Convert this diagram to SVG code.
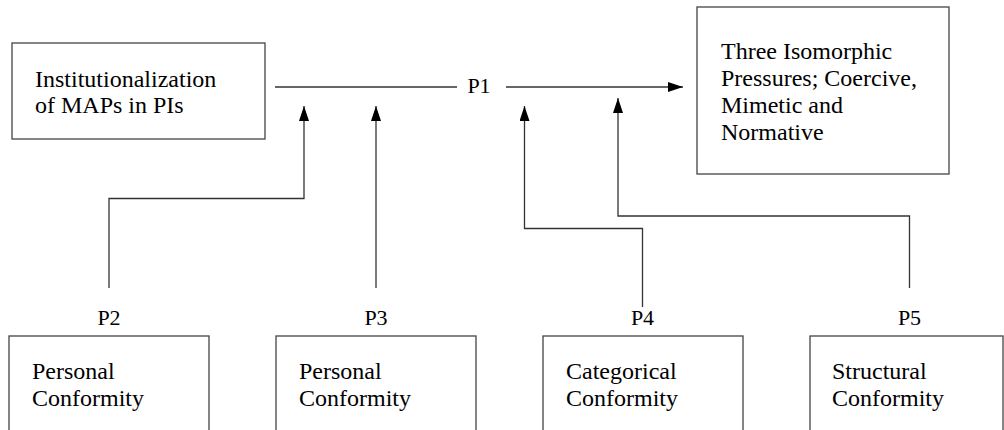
<svg xmlns="http://www.w3.org/2000/svg" width="1004" height="430" viewBox="0 0 1004 430">
<style>
.box{fill:#fff;stroke:#444;stroke-width:1.3}
.lbl{font-family:"Liberation Serif","Times New Roman",serif;font-size:24px;fill:#000}
.pl{font-family:"Liberation Serif","Times New Roman",serif;font-size:22px;fill:#000;text-anchor:middle}
.ln{fill:none;stroke:#333;stroke-width:1.3}
</style>
<defs>
<marker id="ah" markerUnits="userSpaceOnUse" markerWidth="15" markerHeight="10" refX="15" refY="5" orient="auto">
<path d="M0,0 L15,5 L0,10 z" fill="#000"/>
</marker>
</defs>
<rect width="1004" height="430" fill="#fff"/>
<g id="connectors">
<path class="ln" d="M275,87 H457"/>
<path class="ln" d="M506,87 H683" marker-end="url(#ah)"/>
<text class="pl" x="479" y="93">P1</text>
<path class="ln" d="M109,288 V198.5 H304 V106" marker-end="url(#ah)"/>
<path class="ln" d="M376,288 V106" marker-end="url(#ah)"/>
<path class="ln" d="M642.5,307 V228.5 H524.5 V106" marker-end="url(#ah)"/>
<path class="ln" d="M909.5,288 V216 H618 V98" marker-end="url(#ah)"/>
<text class="pl" x="109" y="325">P2</text>
<text class="pl" x="376" y="325">P3</text>
<text class="pl" x="642.5" y="325">P4</text>
<text class="pl" x="909.5" y="325">P5</text>
</g>
<g id="node-institutionalization">
<rect class="box" x="12" y="43" width="253" height="96"/>
<text class="lbl" x="35" y="87">Institutionalization</text>
<text class="lbl" x="35" y="113">of MAPs in PIs</text>
</g>
<g id="node-pressures">
<rect class="box" x="697" y="7" width="252" height="167"/>
<text class="lbl" x="721" y="59">Three Isomorphic</text>
<text class="lbl" x="721" y="86">Pressures; Coercive,</text>
<text class="lbl" x="721" y="113">Mimetic and</text>
<text class="lbl" x="721" y="140">Normative</text>
</g>
<g id="node-personal1">
<rect class="box" x="9" y="336" width="200" height="110"/>
<text class="lbl" x="32" y="379">Personal</text>
<text class="lbl" x="32" y="406">Conformity</text>
</g>
<g id="node-personal2">
<rect class="box" x="276" y="336" width="200" height="110"/>
<text class="lbl" x="299" y="379">Personal</text>
<text class="lbl" x="299" y="406">Conformity</text>
</g>
<g id="node-categorical">
<rect class="box" x="543" y="336" width="200" height="110"/>
<text class="lbl" x="566" y="379">Categorical</text>
<text class="lbl" x="566" y="406">Conformity</text>
</g>
<g id="node-structural">
<rect class="box" x="810" y="336" width="193" height="110"/>
<text class="lbl" x="832" y="379">Structural</text>
<text class="lbl" x="832" y="406">Conformity</text>
</g>
</svg>
